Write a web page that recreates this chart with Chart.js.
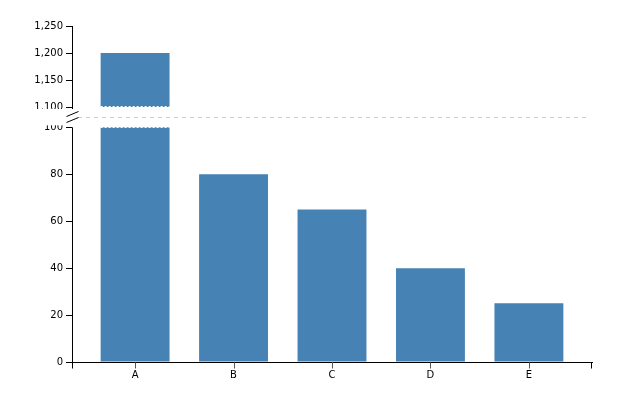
<!DOCTYPE html>
<html>
<head>
<meta charset="utf-8">
<script src="https://cdn.jsdelivr.net/npm/chart.js@4/dist/chart.umd.min.js"></script>
<style>
  html, body { margin: 0; padding: 0; background: #fff; }
  #wrap { width: 643px; height: 401px; }
</style>
</head>
<body>
<div id="wrap"><canvas id="barChart" width="643" height="401"></canvas></div>
<script>
// data
const categories = ['A', 'B', 'C', 'D', 'E'];
const values = [1200, 80, 65, 40, 25];
const lowTicks = [0, 20, 40, 60, 80, 100];
const highTicks = [1100, 1150, 1200, 1250];

// where the axis is broken
const lowMax = 100;
const highMin = 1100;

const lowerPart = values.map(v => Math.min(v, lowMax));
const upperPart = values.map(v => v > lowMax ? [highMin, v] : null);

const barColor = '#4682b4';
const font = { family: 'DejaVu Sans', size: 10 };
// outer padding of the band scale, in steps
const outerPad = 0.641;

// draws the axis lines, the break marks and the dashed break line
const brokenAxis = {
    id: 'brokenAxis',
    afterDraw(chart) {
        const ctx = chart.ctx;
        const area = chart.chartArea;
        const yLow = chart.scales.y;
        const yHigh = chart.scales.y2;
        const x0 = Math.round(area.left) + 0.5;
        const gapY = yHigh.bottom;
        const pHighMin = yHigh.getPixelForValue(highMin);
        const pLowMax = yLow.getPixelForValue(lowMax);
        const lowMeta = chart.getDatasetMeta(0);

        ctx.save();

        // hide labels near the break
        ctx.fillStyle = '#fff';
        ctx.fillRect(0, pHighMin + 2, area.left - 1, pLowMax - pHighMin - 4);

        // dashed line across the break
        ctx.strokeStyle = '#ccc';
        ctx.lineWidth = 1;
        ctx.setLineDash([4, 4]);
        ctx.beginPath();
        ctx.moveTo(area.left + 6, Math.round(gapY) + 0.5);
        ctx.lineTo(area.right - 4, Math.round(gapY) + 0.5);
        ctx.stroke();

        // white dotted edges on the cut bars
        ctx.strokeStyle = '#fff';
        ctx.setLineDash([2, 2]);
        values.forEach((v, i) => {
            if (v <= lowMax) return;
            const bar = lowMeta.data[i];
            const half = bar.width / 2;
            ctx.beginPath();
            ctx.moveTo(bar.x - half, Math.round(pHighMin) - 0.5);
            ctx.lineTo(bar.x + half, Math.round(pHighMin) - 0.5);
            ctx.moveTo(bar.x - half, Math.round(pLowMax) + 0.5);
            ctx.lineTo(bar.x + half, Math.round(pLowMax) + 0.5);
            ctx.stroke();
        });
        ctx.setLineDash([]);

        // y axis lines, with a gap
        ctx.strokeStyle = '#000';
        ctx.beginPath();
        ctx.moveTo(x0, yHigh.getPixelForValue(highTicks[highTicks.length - 1]));
        ctx.lineTo(x0, pHighMin + 2);
        ctx.moveTo(x0, pLowMax);
        ctx.lineTo(x0, yLow.getPixelForValue(0));
        ctx.stroke();

        // break marks
        ctx.beginPath();
        [-3, 3].forEach(off => {
            ctx.moveTo(x0 - 6, gapY + off + 2.5);
            ctx.lineTo(x0 + 6, gapY + off - 2.5);
        });
        ctx.stroke();

        // outer ticks of the x axis
        const yb = Math.round(area.bottom) + 0.5;
        ctx.beginPath();
        ctx.moveTo(x0, yb);
        ctx.lineTo(x0, yb + 6);
        ctx.moveTo(Math.round(area.right) - 0.5, yb);
        ctx.lineTo(Math.round(area.right) - 0.5, yb + 6);
        ctx.stroke();

        // category ticks under the bars
        ctx.strokeStyle = '#555';
        ctx.beginPath();
        lowMeta.data.forEach(bar => {
            const px = Math.round(bar.x) + 0.5;
            ctx.moveTo(px, yb);
            ctx.lineTo(px, yb + 6);
        });
        ctx.stroke();
        ctx.restore();
    }
};

new Chart(document.getElementById('barChart').getContext('2d'), {
    type: 'bar',
    data: {
        labels: categories,
        datasets: [{
            data: lowerPart,
            yAxisID: 'y',
            backgroundColor: barColor,
            borderWidth: 0,
            grouped: false,
            barPercentage: 0.7,
            categoryPercentage: 1
        }, {
            data: upperPart,
            yAxisID: 'y2',
            backgroundColor: barColor,
            borderWidth: 0,
            grouped: false,
            barPercentage: 0.7,
            categoryPercentage: 1
        }]
    },
    options: {
        responsive: false,
        animation: false,
        layout: { padding: { top: 26, right: 51, left: 0, bottom: 0 } },
        plugins: { legend: { display: false }, tooltip: { enabled: false } },
        scales: {
            x: {
                offset: false,
                grid: { drawOnChartArea: false, tickLength: 6, tickColor: 'rgba(0,0,0,0)', offset: false },
                border: { color: '#000' },
                ticks: { color: '#000', font: font, padding: 1 },
                afterBuildTicks: s => {
                    s._startValue = -outerPad;
                    s._valueRange = categories.length - 1 + 2 * outerPad;
                },
                afterFit: s => { s.height = 39; }
            },
            y: {
                position: 'left',
                stack: 'v',
                stackWeight: 245,
                min: 0,
                max: 104.4,
                grid: { drawOnChartArea: false, tickLength: 6, tickColor: '#000' },
                border: { display: false },
                ticks: { color: '#000', font: font, padding: 3 },
                afterBuildTicks: s => { s.ticks = lowTicks.map(v => ({ value: v })); },
                afterFit: s => { s.width = 72; }
            },
            y2: {
                position: 'left',
                stack: 'v',
                stackWeight: 91,
                min: 1081.5,
                max: 1250,
                grid: { drawOnChartArea: false, tickLength: 6, tickColor: '#000' },
                border: { display: false },
                ticks: { color: '#000', font: font, padding: 3 },
                afterBuildTicks: s => { s.ticks = highTicks.map(v => ({ value: v })); },
                afterFit: s => { s.width = 72; }
            }
        }
    },
    plugins: [brokenAxis]
});
</script>
</body>
</html>
